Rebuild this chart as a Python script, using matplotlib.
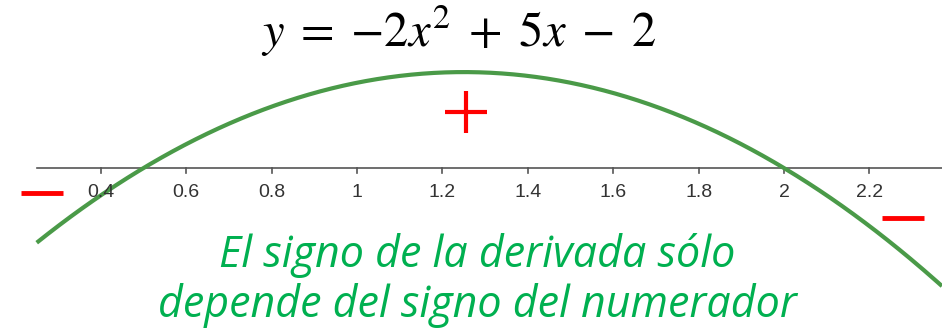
import numpy as np
import matplotlib.pyplot as plt

# parabola y = -2x^2 + 5x - 2
coef = [-2, 5, -2]
x_start, x_end = 0.25, 2.37
tick_vals = [0.4, 0.6, 0.8, 1.0, 1.2, 1.4, 1.6, 1.8, 2.0, 2.2, 2.4]
tick_labels = ["0.4", "0.6", "0.8", "1", "1.2", "1.4", "1.6", "1.8", "2", "2.2", "2.4"]

# sign markers (x, y) in data units
plus_pos = (1.255, 0.66)
minus_pos = [(0.263, -0.29), (2.278, -0.586)]

title = r"$y\;=\;{-}2x^2\;+\;5x\;-\;2$"
note = "El signo de la derivada sólo\ndepende del signo del numerador"

plt.rcParams['mathtext.fontset'] = 'stix'

fig = plt.figure(figsize=(9.42, 3.31), dpi=100)
ax = fig.add_axes([0, 0, 1, 1])
ax.set_xlim(0.164, 2.370)
ax.set_ylim(-1.91, 1.97)
ax.axis('off')

xs = np.linspace(x_start, x_end, 400)
ys = np.polyval(coef, xs)

# x axis with ticks
ax.plot([x_start, x_end + 0.1], [0, 0], color='#555555', lw=1.2, zorder=1)
for t, lab in zip(tick_vals, tick_labels):
    ax.plot([t, t], [0, -0.06], color='#555555', lw=1.2, zorder=1)
    ax.text(t, -0.29, lab, ha='center', va='center', fontsize=14,
            color='#333333', family='Liberation Sans')

ax.plot(xs, ys, color='#4a9a48', lw=3, solid_capstyle='butt', zorder=2)

ax.plot(*plus_pos, marker='+', ms=30, mew=3, color='#ff0000', zorder=3)
for mx, my in minus_pos:
    ax.plot(mx, my, marker='_', ms=30, mew=3.5, color='#ff0000', zorder=3)

fig.text(0.487, 0.905, title, ha='center', va='center', fontsize=35, color='black')
fig.text(0.507, 0.152, note, ha='center', va='center', fontsize=31,
         style='italic', color='#00b050', family='Open Sans', linespacing=1.13)

fig.savefig('out.png', dpi=100)
